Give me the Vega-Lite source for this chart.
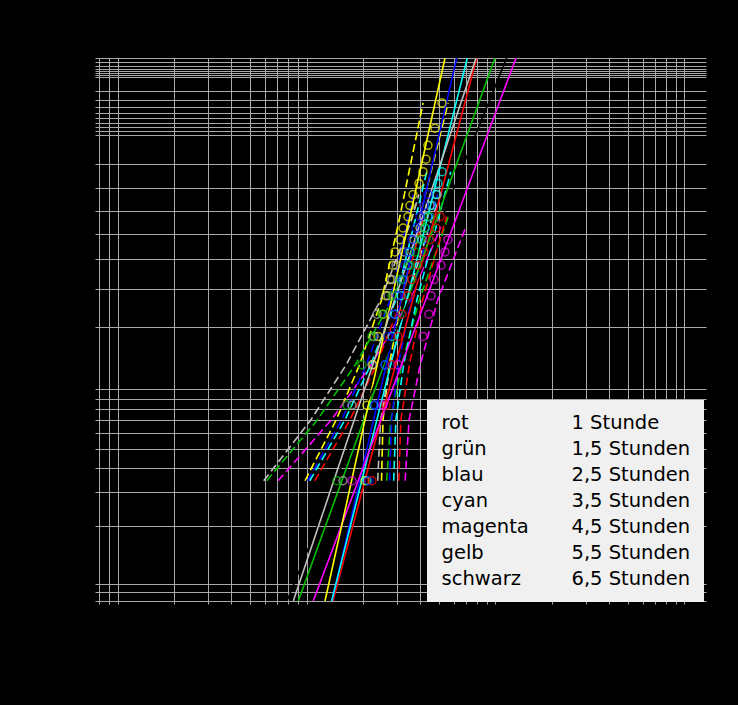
{
"$schema":"https://vega.github.io/schema/vega-lite/v6.json",
"width":611,"height":543,"autosize":"none",
"padding":{"left":95,"top":58,"right":32,"bottom":104},
"background":"#000000",
"config":{"view":{"stroke":null}},
"datasets":{
"legende":[{"s":"rot","d":"1 Stunde"},{"s":"grün","d":"1,5 Stunden"},{"s":"blau","d":"2,5 Stunden"},{"s":"cyan","d":"3,5 Stunden"},{"s":"magenta","d":"4,5 Stunden"},{"s":"gelb","d":"5,5 Stunden"},{"s":"schwarz","d":"6,5 Stunden"}],
"fit":[
{"s":"rot","t":13.81,"w":-4.81},{"s":"rot","t":79.55,"w":1.76},
{"s":"grün","t":9.048,"w":-4.81},{"s":"grün","t":99.39,"w":1.76},
{"s":"blau","t":13.64,"w":-4.81},{"s":"blau","t":62.34,"w":1.76},
{"s":"cyan","t":13.59,"w":-4.81},{"s":"cyan","t":70.93,"w":1.76},
{"s":"magenta","t":10.86,"w":-4.81},{"s":"magenta","t":128.4,"w":1.76},
{"s":"gelb","t":12.53,"w":-4.81},{"s":"gelb","t":54.04,"w":1.76},
{"s":"schwarz","t":7.884,"w":-4.81},{"s":"schwarz","t":114.6,"w":1.76},
{"s":"grau","t":8.514,"w":-4.81},{"s":"grau","t":78.87,"w":1.76}],
"bounds":[
{"s":"gelb","b":"lo","w":-3.355,"t":9.819},{"s":"gelb","b":"lo","w":-2.619,"t":14.36},{"s":"gelb","b":"lo","w":-1.954,"t":19.07},{"s":"gelb","b":"lo","w":-1.168,"t":24.94},{"s":"gelb","b":"lo","w":-0.2,"t":30.93},{"s":"gelb","b":"lo","w":1.216,"t":41.39},
{"s":"gelb","b":"hi","w":-3.355,"t":24.94},{"s":"gelb","b":"hi","w":-2.619,"t":25.4},{"s":"gelb","b":"hi","w":-1.954,"t":27.39},{"s":"gelb","b":"hi","w":-1.168,"t":31.81},{"s":"gelb","b":"hi","w":-0.2,"t":39.47},{"s":"gelb","b":"hi","w":1.216,"t":56.12},
{"s":"grau","b":"lo","w":-3.355,"t":5.937},{"s":"grau","b":"lo","w":-2.619,"t":10.54},{"s":"grau","b":"lo","w":-1.954,"t":16.2},{"s":"grau","b":"lo","w":-1.168,"t":24.66},{"s":"grau","b":"lo","w":-0.2,"t":35.93},{"s":"grau","b":"lo","w":0.108,"t":39.32},
{"s":"grau","b":"hi","w":-3.355,"t":23.81},{"s":"grau","b":"hi","w":-2.619,"t":24.66},{"s":"grau","b":"hi","w":-1.954,"t":27.76},{"s":"grau","b":"hi","w":-1.168,"t":33.85},{"s":"grau","b":"hi","w":-0.2,"t":45.85},{"s":"grau","b":"hi","w":0.108,"t":51.41},
{"s":"grün","b":"lo","w":-3.355,"t":6.158},{"s":"grün","b":"lo","w":-2.619,"t":11.41},{"s":"grün","b":"lo","w":-1.954,"t":18.1},{"s":"grün","b":"lo","w":-1.168,"t":28.44},{"s":"grün","b":"lo","w":-0.16,"t":43.03},
{"s":"grün","b":"hi","w":-3.355,"t":26.56},{"s":"grün","b":"hi","w":-2.619,"t":27.93},{"s":"grün","b":"hi","w":-1.954,"t":31.89},{"s":"grün","b":"hi","w":-1.168,"t":39.51},{"s":"grün","b":"hi","w":-0.16,"t":56.25},
{"s":"magenta","b":"lo","w":-3.355,"t":7.075},{"s":"magenta","b":"lo","w":-2.619,"t":13.53},{"s":"magenta","b":"lo","w":-1.954,"t":21.94},{"s":"magenta","b":"lo","w":-1.168,"t":35.16},{"s":"magenta","b":"lo","w":-0.284,"t":51.41},
{"s":"magenta","b":"hi","w":-3.355,"t":33.24},{"s":"magenta","b":"hi","w":-2.619,"t":34.9},{"s":"magenta","b":"hi","w":-1.954,"t":39.95},{"s":"magenta","b":"hi","w":-1.168,"t":49.44},{"s":"magenta","b":"hi","w":-0.284,"t":69.7},
{"s":"blau","b":"lo","w":-3.355,"t":10.13},{"s":"blau","b":"lo","w":-2.619,"t":15.34},{"s":"blau","b":"lo","w":-1.954,"t":20.69},{"s":"blau","b":"lo","w":-1.168,"t":27.69},{"s":"blau","b":"lo","w":0.108,"t":36.73},
{"s":"blau","b":"hi","w":-3.355,"t":27.52},{"s":"blau","b":"hi","w":-2.619,"t":28.2},{"s":"blau","b":"hi","w":-1.954,"t":30.56},{"s":"blau","b":"hi","w":-1.168,"t":35.76},{"s":"blau","b":"hi","w":0.108,"t":49.2},
{"s":"cyan","b":"lo","w":-3.355,"t":10.4},{"s":"cyan","b":"lo","w":-2.619,"t":15.97},{"s":"cyan","b":"lo","w":-1.954,"t":21.84},{"s":"cyan","b":"lo","w":-1.168,"t":29.71},{"s":"cyan","b":"lo","w":0.384,"t":43.29},
{"s":"cyan","b":"hi","w":-3.355,"t":28.93},{"s":"cyan","b":"hi","w":-2.619,"t":29.71},{"s":"cyan","b":"hi","w":-1.954,"t":32.64},{"s":"cyan","b":"hi","w":-1.168,"t":38.37},{"s":"cyan","b":"hi","w":0.384,"t":58.0},
{"s":"rot","b":"lo","w":-3.355,"t":11.06},{"s":"rot","b":"lo","w":-2.619,"t":16.97},{"s":"rot","b":"lo","w":-1.954,"t":23.43},{"s":"rot","b":"lo","w":-1.168,"t":31.85},{"s":"rot","b":"lo","w":-0.16,"t":41.64},
{"s":"rot","b":"hi","w":-3.355,"t":30.78},{"s":"rot","b":"hi","w":-2.619,"t":31.58},{"s":"rot","b":"hi","w":-1.954,"t":35.03},{"s":"rot","b":"hi","w":-1.168,"t":41.14},{"s":"rot","b":"hi","w":-0.16,"t":55.1}],
"points":[
{"s":"gelb","t":20.39,"w":-3.355},{"s":"gelb","t":20.89,"w":-2.442},{"s":"gelb","t":22.48,"w":-1.952},{"s":"gelb","t":23.9,"w":-1.609},{"s":"gelb","t":25.4,"w":-1.34},{"s":"gelb","t":26.34,"w":-1.116},{"s":"gelb","t":27.66,"w":-0.921},{"s":"gelb","t":28.68,"w":-0.747},{"s":"gelb","t":29.39,"w":-0.587},{"s":"gelb","t":31.24,"w":-0.438},{"s":"gelb","t":32.4,"w":-0.297},{"s":"gelb","t":34.43,"w":-0.16},{"s":"gelb","t":35.28,"w":-0.026},{"s":"gelb","t":36.6,"w":0.108},{"s":"gelb","t":39.37,"w":0.243},{"s":"gelb","t":41.34,"w":0.384},{"s":"gelb","t":42.87,"w":0.535},{"s":"gelb","t":43.93,"w":0.704},{"s":"gelb","t":47.84,"w":0.91},{"s":"gelb","t":52.1,"w":1.216},
{"s":"grau","t":15.6,"w":-3.355},{"s":"grau","t":17.41,"w":-2.442},{"s":"grau","t":22.21,"w":-1.952},{"s":"grau","t":22.76,"w":-1.609},{"s":"grau","t":23.61,"w":-1.34},{"s":"grau","t":26.99,"w":-1.116},{"s":"grau","t":28.34,"w":-0.921},{"s":"grau","t":29.75,"w":-0.747},{"s":"grau","t":32.8,"w":-0.587},{"s":"grau","t":37.04,"w":-0.438},{"s":"grau","t":39.85,"w":-0.297},{"s":"grau","t":41.84,"w":-0.16},{"s":"grau","t":45.02,"w":-0.026},{"s":"grau","t":49.02,"w":0.108},
{"s":"cyan","t":20.89,"w":-3.355},{"s":"cyan","t":22.76,"w":-2.442},{"s":"cyan","t":26.02,"w":-1.952},{"s":"cyan","t":28.34,"w":-1.609},{"s":"cyan","t":29.39,"w":-1.34},{"s":"cyan","t":31.62,"w":-1.116},{"s":"cyan","t":32.4,"w":-0.921},{"s":"cyan","t":34.43,"w":-0.747},{"s":"cyan","t":35.28,"w":-0.587},{"s":"cyan","t":40.84,"w":-0.438},{"s":"cyan","t":42.36,"w":-0.297},{"s":"cyan","t":43.93,"w":-0.16},{"s":"cyan","t":46.13,"w":-0.026},{"s":"cyan","t":48.43,"w":0.108},{"s":"cyan","t":49.62,"w":0.243},{"s":"cyan","t":52.1,"w":0.384},
{"s":"blau","t":21.41,"w":-3.355},{"s":"blau","t":23.04,"w":-2.442},{"s":"blau","t":26.02,"w":-1.952},{"s":"blau","t":26.99,"w":-1.609},{"s":"blau","t":28.68,"w":-1.34},{"s":"blau","t":30.12,"w":-1.116},{"s":"blau","t":32.01,"w":-0.921},{"s":"blau","t":33.2,"w":-0.747},{"s":"blau","t":34.43,"w":-0.587},{"s":"blau","t":36.15,"w":-0.438},{"s":"blau","t":37.96,"w":-0.297},{"s":"blau","t":39.85,"w":-0.16},{"s":"blau","t":41.84,"w":-0.026},{"s":"blau","t":43.93,"w":0.108},
{"s":"rot","t":22.21,"w":-3.355},{"s":"rot","t":26.34,"w":-2.442},{"s":"rot","t":28.34,"w":-1.952},{"s":"rot","t":30.48,"w":-1.609},{"s":"rot","t":32.01,"w":-1.34},{"s":"rot","t":34.43,"w":-1.116},{"s":"rot","t":36.15,"w":-0.921},{"s":"rot","t":38.89,"w":-0.747},{"s":"rot","t":41.84,"w":-0.587},{"s":"rot","t":45.02,"w":-0.438},{"s":"rot","t":48.43,"w":-0.297},{"s":"rot","t":50.85,"w":-0.16},
{"s":"grün","t":14.5,"w":-3.355},{"s":"grün","t":16.38,"w":-2.442},{"s":"grün","t":19.66,"w":-1.952},{"s":"grün","t":22.21,"w":-1.609},{"s":"grün","t":25.09,"w":-1.34},{"s":"grün","t":28.34,"w":-1.116},{"s":"grün","t":31.24,"w":-0.921},{"s":"grün","t":35.28,"w":-0.747},{"s":"grün","t":37.5,"w":-0.587},{"s":"grün","t":39.85,"w":-0.438},{"s":"grün","t":42.36,"w":-0.297},{"s":"grün","t":45.02,"w":-0.16},
{"s":"magenta","t":17.41,"w":-3.355},{"s":"magenta","t":25.4,"w":-2.442},{"s":"magenta","t":30.48,"w":-1.952},{"s":"magenta","t":41.34,"w":-1.609},{"s":"magenta","t":44.47,"w":-1.34},{"s":"magenta","t":45.57,"w":-1.116},{"s":"magenta","t":47.26,"w":-0.921},{"s":"magenta","t":51.47,"w":-0.747},{"s":"magenta","t":54.04,"w":-0.587},{"s":"magenta","t":56.05,"w":-0.438}]
},
"layer":[
{"data":{"name":"bounds"},
 "mark":{"type":"line","strokeDash":[8,4],"strokeWidth":1.6,"clip":true},
 "encoding":{
  "x":{"field":"t","type":"quantitative","scale":{"type":"log","domain":[0.76,1300],"nice":false},
   "axis":{"values":[0.8,0.9,1,2,3,4,5,6,7,8,9,10,20,30,40,50,60,70,80,90,100,200,300,400,500,600,700,800,900,1000],"tickCount":200,"grid":true,"gridColor":"#a8a8a8","gridWidth":1,"labels":false,"ticks":true,"tickColor":"#a8a8a8","tickSize":3,"domain":true,"domainColor":"#a8a8a8","title":null}},
  "y":{"field":"w","type":"quantitative","scale":{"domain":[-4.81,1.76],"nice":false,"zero":false},
   "axis":{"values":[-4.706,-4.6,-3.902,-3.491,-3.199,-2.97,-2.783,-2.623,-2.484,-2.361,-2.25,-1.5,-1.031,-0.672,-0.367,-0.087,0.186,0.476,0.834,0.879,0.927,0.978,1.034,1.097,1.169,1.255,1.364,1.527,1.55,1.574,1.602,1.632,1.667,1.709,1.759],"tickCount":200,"grid":true,"gridColor":"#a8a8a8","gridWidth":1,"labels":false,"ticks":false,"domain":false,"title":null}},
  "color":{"field":"s","type":"nominal","scale":{"domain":["rot","grün","blau","cyan","magenta","gelb","schwarz","grau"],"range":["#ff0000","#00c000","#0000ff","#00ffff","#ff00ff","#ffff00","#000000","#c0c0c0"]}},
  "detail":{"field":"b","type":"nominal"},
  "order":{"field":"w","type":"quantitative"}}},
{"data":{"name":"fit"},
 "mark":{"type":"line","strokeWidth":1.6,"clip":true},
 "encoding":{
  "x":{"field":"t","type":"quantitative"},
  "y":{"field":"w","type":"quantitative"},
  "color":{"field":"s","type":"nominal"},
  "order":{"field":"w","type":"quantitative"}}},
{"data":{"name":"points"},
 "mark":{"type":"point","shape":"circle","filled":false,"size":64,"strokeWidth":1.5,"clip":true},
 "encoding":{
  "x":{"field":"t","type":"quantitative"},
  "y":{"field":"w","type":"quantitative"},
  "color":{"field":"s","type":"nominal"}}},
{"data":{"name":"legende"},
 "mark":{"type":"point","opacity":0},
 "encoding":{
  "color":{"field":"s","type":"nominal","legend":{"values":["rot","grün","blau","cyan","magenta","gelb","schwarz"],"orient":"none","legendX":332,"legendY":342,"direction":"vertical","fillColor":"#f0f0f0","padding":13,"labelFont":"DejaVu Sans","labelFontSize":19.5,"labelColor":"#000000","symbolSize":0,"symbolOpacity":0,"symbolStrokeWidth":0,"labelOffset":-18,"rowPadding":5,"labelLimit":300,"title":null}},
  "shape":{"field":"d","type":"nominal","scale":{"domain":["1 Stunde","1,5 Stunden","2,5 Stunden","3,5 Stunden","4,5 Stunden","5,5 Stunden","6,5 Stunden"]},"legend":{"orient":"none","legendX":440,"legendY":342,"direction":"vertical","fillColor":"#f0f0f0","padding":13,"labelFont":"DejaVu Sans","labelFontSize":19.5,"labelColor":"#000000","symbolSize":0,"symbolOpacity":0,"symbolStrokeWidth":0,"labelOffset":4,"rowPadding":5,"labelLimit":300,"title":null}}}}
]
}
